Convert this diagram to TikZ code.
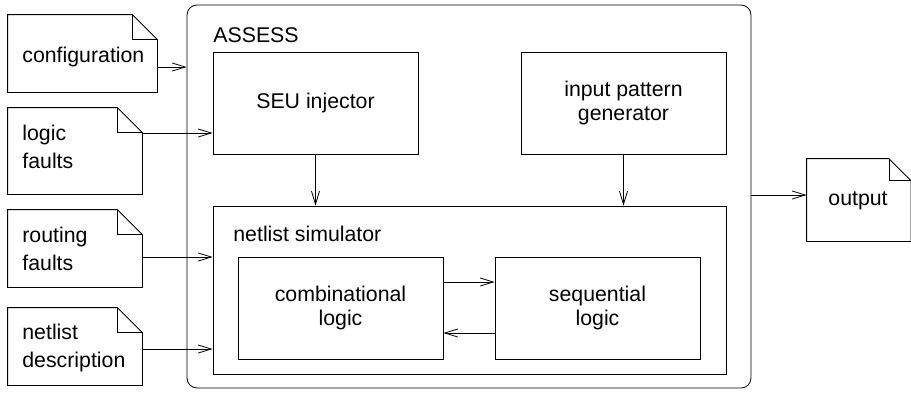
\documentclass[tikz,border=0pt]{standalone}
\usepackage{fontspec}
\setmainfont{Liberation Sans}
\usetikzlibrary{arrows.meta}
\newcommand{\docoutline}[2]{%
  \draw (#1.north west) -- ([xshift=-#2pt]#1.north east) -- ([yshift=-#2pt]#1.north east) -- (#1.south east) -- (#1.south west) -- cycle;
  \draw ([xshift=-#2pt]#1.north east) |- ([yshift=-#2pt]#1.north east);}
\begin{document}
\begin{tikzpicture}[x=1pt,y=-1pt,line width=0.8pt,
  arr/.style={-{Straight Barb[length=13pt,width=8pt,line width=0.8pt]}},
  box/.style={draw, rectangle, inner sep=0pt, align=center, font=\fontsize{21.3}{24}\selectfont},
  docframe/.style={rectangle, inner sep=0pt, draw=none},
  doctext/.style={anchor=base west, inner sep=0pt, align=left, font=\fontsize{21.3}{28.5}\selectfont},
  lbl/.style={anchor=base west, inner sep=0pt, font=\fontsize{21.3}{24}\selectfont}]
\useasboundingbox (0,0) rectangle (911,392);
% main container
\node[draw, rectangle, rounded corners=10pt, inner sep=0pt, minimum width=564pt, minimum height=383pt] (assess) at (469,196.5) {};
\node[lbl] (assesslbl) at (213,42) {ASSESS};
\node[box, minimum width=205pt, minimum height=102pt] (seu) at (315.5,103) {SEU injector};
\node[box, minimum width=205pt, minimum height=102pt] (ipg) at (623.5,103) {input pattern\\generator};
\node[draw, rectangle, inner sep=0pt, minimum width=513pt, minimum height=168pt] (ns) at (469.5,290) {};
\node[lbl] (nslbl) at (233,241) {netlist simulator};
\node[box, minimum width=205pt, minimum height=102pt] (comb) at (340.5,308) {combinational\\logic};
\node[box, minimum width=205pt, minimum height=102pt] (seq) at (597.5,308) {sequential\\logic};
% documents
\node[docframe, minimum width=149pt, minimum height=77pt] (conf) at (82.5,53.5) {};
\node[docframe, minimum width=134pt, minimum height=86pt] (lf) at (75,151) {};
\node[docframe, minimum width=134pt, minimum height=77pt] (rf) at (75,248.5) {};
\node[docframe, minimum width=134pt, minimum height=77pt] (nd) at (75,346.5) {};
\node[docframe, minimum width=103.5pt, minimum height=82pt] (out) at (858.75,200) {};
\docoutline{conf}{25}
\docoutline{lf}{25}
\docoutline{rf}{25}
\docoutline{nd}{25}
\docoutline{out}{22}
\node[doctext] (conftxt) at (22,62) {configuration};
\node[doctext] (lftxt) at (22,168.5) {logic\\faults};
\node[doctext] (rftxt) at (22,270.5) {routing\\faults};
\node[doctext] (ndtxt) at (22,367.5) {netlist\\description};
\node[doctext] (outtxt) at (828,205) {output};
% helper rows
\coordinate (y67) at (0,67);
\coordinate (y133) at (0,133);
\coordinate (y257) at (0,257);
\coordinate (y349) at (0,349);
\coordinate (y282) at (0,282);
\coordinate (y333) at (0,333);
\coordinate (y195) at (0,195);
% connectors
\draw[arr] (conf.east |- y67) -- (assess.west |- y67);
\draw[arr] (lf.east |- y133) -- (seu.west |- y133);
\draw[arr] (rf.east |- y257) -- (ns.west |- y257);
\draw[arr] (nd.east |- y349) -- (ns.west |- y349);
\draw[arr] (seu.south) -- (seu.south |- ns.north);
\draw[arr] (ipg.south) -- (ipg.south |- ns.north);
\draw[arr] (comb.east |- y282) -- (seq.west |- y282);
\draw[arr] (seq.west |- y333) -- (comb.east |- y333);
\draw[arr] (assess.east |- y195) -- (out.west |- y195);
\end{tikzpicture}
\end{document}
